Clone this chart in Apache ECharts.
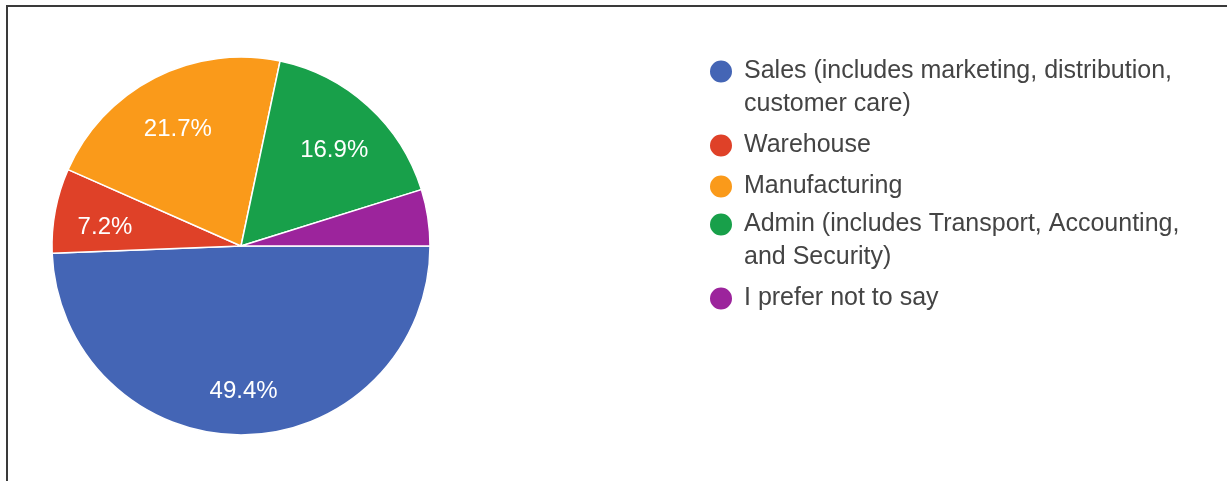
<!DOCTYPE html>
<html>
<head>
<meta charset="utf-8">
<script src="https://cdn.jsdelivr.net/npm/echarts@6/dist/echarts.min.js"></script>
<style>
  html, body { margin: 0; padding: 0; background: #fff; }
  #chart { width: 1227px; height: 481px; }
</style>
</head>
<body>
<div id="chart"></div>
<script>
// 数据
var categories = [
    "Sales (includes marketing, distribution, customer care)",
    "Warehouse",
    "Manufacturing",
    "Admin (includes Transport, Accounting, and Security)",
    "I prefer not to say"
];
var legendLabels = [
    "Sales (includes marketing, distribution,\ncustomer care)",
    "Warehouse",
    "Manufacturing",
    "Admin (includes Transport, Accounting,\nand Security)",
    "I prefer not to say"
];
var counts = [41, 6, 18, 14, 4];
var colors = ["#4465b5", "#df4128", "#fa9a1a", "#18a04a", "#9c249c"];

var chart = echarts.init(document.getElementById("chart"));
window.onresize = chart.resize;

var pieData = categories.map(function (name, i) {
    return { name: name, value: counts[i], itemStyle: { color: colors[i] } };
});

// 两行的图例文字前面加一个空行, 让圆点对齐第一行
function legendText(name) {
    var s = legendLabels[categories.indexOf(name)];
    return s.indexOf("\n") >= 0 ? " \n" + s : s;
}

function makeLegend(names, top) {
    return {
        orient: "vertical",
        left: 708,
        top: top,
        padding: 0,
        itemWidth: 24,
        itemHeight: 24,
        itemGap: 8,
        icon: "circle",
        selectedMode: false,
        data: names,
        formatter: legendText,
        textStyle: {
            fontSize: 25,
            lineHeight: 33,
            color: "#444",
            padding: [0, 0, 0, 6]
        }
    };
}

chart.setOption({
    animation: false,
    textStyle: { fontFamily: "Liberation Sans, Arial, sans-serif" },
    graphic: [{
        // 外框
        type: "rect",
        shape: { x: 7, y: 6, width: 1400, height: 700 },
        style: { fill: "none", stroke: "#3a3a3a", lineWidth: 2 },
        silent: true
    }],
    legend: [
        makeLegend(categories.slice(0, 3), 22),
        makeLegend(categories.slice(3), 175)
    ],
    series: [
        {
            type: "pie",
            center: [241, 246],
            radius: [0, 189],
            startAngle: 0,
            clockwise: true,
            silent: true,
            label: { show: false },
            labelLine: { show: false },
            itemStyle: { borderColor: "#fff", borderWidth: 1.5 },
            emphasis: { disabled: true },
            data: pieData
        },
        {
            // 百分比标签
            type: "pie",
            center: [241, 246],
            radius: [82, 189],
            startAngle: 0,
            clockwise: true,
            silent: true,
            percentPrecision: 1,
            avoidLabelOverlap: false,
            minShowLabelAngle: 20,
            itemStyle: { color: "rgba(0,0,0,0)", borderWidth: 0 },
            label: {
                show: true,
                position: "inside",
                formatter: "{d}%",
                color: "#fff",
                fontSize: 24
            },
            labelLayout: { dy: 7 },
            labelLine: { show: false },
            emphasis: { disabled: true },
            data: categories.map(function (name, i) {
                return { name: name, value: counts[i] };
            })
        }
    ]
});
</script>
</body>
</html>
